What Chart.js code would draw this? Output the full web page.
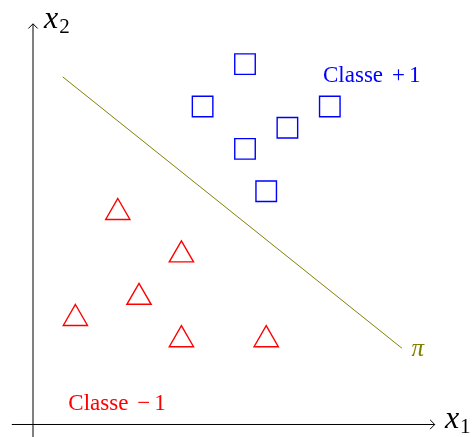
<!DOCTYPE html>
<html>
<head>
<meta charset="utf-8">
<script src="https://cdn.jsdelivr.net/npm/chart.js@4"></script>
<style>
  html, body { margin: 0; padding: 0; background: #fff; }
  #wrap { width: 474px; height: 437px; }
</style>
</head>
<body>
<div id="wrap"><canvas id="chart"></canvas></div>
<script>
// Classe +1 (carrés)
var carresX = [10, 8, 14, 12, 10, 11];
var carresY = [17, 15, 15, 14, 13, 11];

// Classe -1 (triangles)
var trianglesX = [4, 7, 5, 2, 7, 11];
var trianglesY = [10, 8, 6, 5, 4, 4];

// hyperplan pi
var droiteX = [1.4, 17.4];
var droiteY = [16.4, 3.6];

// axes
var axeX = [-1.0, 18.95];
var axeY = [-0.6, 18.9];
var fleche = 0.22;

function pts(xs, ys) {
  var out = [];
  for (var i = 0; i < xs.length; i++) out.push({ x: xs[i], y: ys[i] });
  return out;
}

var ligneAxe = {
  type: "line",
  borderColor: "#000",
  borderWidth: 1,
  pointRadius: 0,
  fill: false,
  tension: 0,
};

var etiquettes = {
  id: "etiquettes",
  afterDatasetsDraw(chart) {
    var ctx = chart.ctx;
    var sx = chart.scales.x;
    var sy = chart.scales.y;
    ctx.save();
    ctx.textBaseline = "alphabetic";
    ctx.textAlign = "left";

    function indice(lettre, chiffre, x, y) {
      var px = sx.getPixelForValue(x);
      var py = sy.getPixelForValue(y);
      ctx.fillStyle = "#000";
      ctx.font = "italic 32px 'Liberation Serif'";
      ctx.fillText(lettre, px, py);
      var w = ctx.measureText(lettre).width;
      ctx.font = "21px 'Liberation Serif'";
      ctx.fillText(chiffre, px + w + 1, py + 4.5);
    }

    indice("x", "2", 0.52, 18.69);
    indice("x", "1", 19.43, -0.17);

    function classe(signe, couleur, x, y) {
      var px = sx.getPixelForValue(x);
      var py = sy.getPixelForValue(y);
      ctx.fillStyle = couleur;
      ctx.font = "23px 'Liberation Serif'";
      ctx.fillText("Classe", px, py);
      ctx.fillText(signe, px + 69, py);
      ctx.fillText("1", px + 86, py);
    }

    classe("+", "#0000ff", 13.68, 16.17);
    classe("\u2212", "#ff0000", 1.665, 0.684);

    ctx.fillStyle = "#808000";
    ctx.textAlign = "center";
    ctx.textBaseline = "middle";
    ctx.font = "italic 25px 'Liberation Serif'";
    ctx.fillText("\u03c0", sx.getPixelForValue(18.15), sy.getPixelForValue(3.55));
    ctx.restore();
  },
};

new Chart(document.getElementById("chart"), {
  type: "scatter",
  data: {
    datasets: [
      Object.assign({}, ligneAxe, {
        data: pts(axeX, [0, 0]),
      }),
      Object.assign({}, ligneAxe, {
        data: pts([axeX[1] - fleche, axeX[1], axeX[1] - fleche], [fleche, 0, -fleche]),
      }),
      Object.assign({}, ligneAxe, {
        data: pts([0, 0], axeY),
      }),
      Object.assign({}, ligneAxe, {
        data: pts([-fleche, 0, fleche], [axeY[1] - fleche, axeY[1], axeY[1] - fleche]),
      }),
      {
        type: "line",
        data: pts(droiteX, droiteY),
        borderColor: "#808000",
        borderWidth: 1,
        pointRadius: 0,
        fill: false,
      },
      {
        data: pts(carresX, carresY),
        pointStyle: "rect",
        pointRadius: 14.5,
        pointBorderColor: "#0000ff",
        pointBackgroundColor: "rgba(0,0,0,0)",
        pointBorderWidth: 1.4,
      },
      {
        data: pts(trianglesX, trianglesY),
        pointStyle: "triangle",
        pointRadius: 14,
        pointBorderColor: "#ff0000",
        pointBackgroundColor: "rgba(0,0,0,0)",
        pointBorderWidth: 1.4,
      },
    ],
  },
  options: {
    responsive: true,
    maintainAspectRatio: false,
    animation: false,
    layout: { padding: 0, autoPadding: false },
    plugins: {
      legend: { display: false },
      tooltip: { enabled: false },
    },
    scales: {
      x: { type: "linear", min: -1.557, max: 20.802, display: false },
      y: { type: "linear", min: -0.59, max: 20.024, display: false },
    },
  },
  plugins: [etiquettes],
});
</script>
</body>
</html>
